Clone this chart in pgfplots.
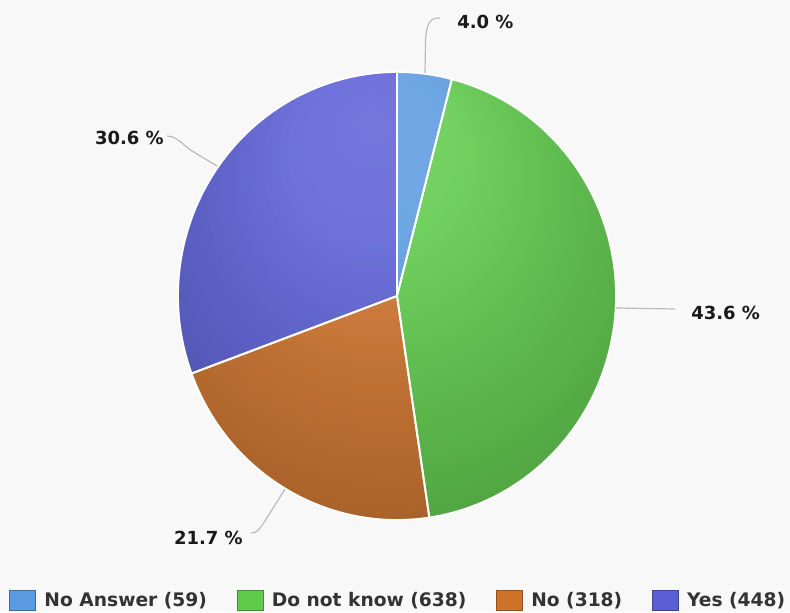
\documentclass[border=0pt]{standalone}
\usepackage{fontspec}
\setmainfont{DejaVu Sans}
\usepackage{pgfplots}
\pgfplotsset{compat=1.18}
\usetikzlibrary{fadings}

\definecolor{bg}{HTML}{F8F8F8}
\definecolor{cBlue}{HTML}{5A9AE0}
\definecolor{cGreen}{HTML}{5ECB4A}
\definecolor{cOrange}{HTML}{D0732A}
\definecolor{cPurple}{HTML}{5A5FD6}
\definecolor{labc}{HTML}{1A1A1A}
\definecolor{legc}{HTML}{333333}
\definecolor{linec}{HTML}{BBBBBB}

\pgfdeclareradialshading{glowshading}{\pgfpoint{-3bp}{20bp}}{color(0bp)=(pgftransparent!84); color(20bp)=(pgftransparent!92); color(50bp)=(pgftransparent!100)}
\pgfdeclarefading{glowfade}{\pgfuseshading{glowshading}}
\pgfdeclareradialshading{rimshading}{\pgfpoint{-3bp}{20bp}}{color(0bp)=(pgftransparent!100); color(10bp)=(pgftransparent!100); color(50bp)=(pgftransparent!66)}
\pgfdeclarefading{rimfade}{\pgfuseshading{rimshading}}

\newcommand\labfont{\fontsize{13.5}{16}\selectfont\bfseries}
\newcommand\legfont{\fontsize{14}{16}\selectfont\bfseries}

% counts
\def\nA{59}   % No Answer
\def\nB{638}  % Do not know
\def\nC{318}  % No
\def\nD{448}  % Yes
\pgfmathsetmacro\tot{\nA+\nB+\nC+\nD}
\pgfmathsetmacro\aA{90}
\pgfmathsetmacro\aB{\aA-360*(\nA/\tot)}
\pgfmathsetmacro\aC{\aB-360*(\nB/\tot)}
\pgfmathsetmacro\aD{\aC-360*(\nC/\tot)}
\pgfmathsetmacro\aE{\aD-360*(\nD/\tot)}
\def\rx{164.25pt}
\def\ry{168pt}

\begin{document}
\begin{tikzpicture}
\begin{axis}[
  width=592.5pt, height=459pt, scale only axis,
  xmin=0, xmax=790, ymin=0, ymax=612,
  hide axis, clip=false,
  legend columns=4,
  legend style={at={(axis cs:9,12)}, anchor=west, draw=none, fill=none,
    inner sep=0pt, font=\legfont, text=legc, nodes={inner sep=1.5pt},
    /tikz/every even column/.append style={column sep=20.75pt},
    /tikz/every odd column/.append style={column sep=5pt}},
  legend image code/.code={\draw[#1] (0pt,-7.5pt) rectangle (19.5pt,7.5pt);},
]
\fill[bg] (axis cs:0,0) rectangle (axis cs:790,612);

\addplot[fill=cBlue, draw=none, legend image post style={draw=cBlue!70!black}] coordinates {(397,316)}
  -- ++(\aA:\rx\space and \ry) arc[start angle=\aA, end angle=\aB, x radius=\rx, y radius=\ry] -- cycle;
\addlegendentry{No Answer (59)}
\addplot[fill=cGreen, draw=none, legend image post style={draw=cGreen!70!black}] coordinates {(397,316)}
  -- ++(\aB:\rx\space and \ry) arc[start angle=\aB, end angle=\aC, x radius=\rx, y radius=\ry] -- cycle;
\addlegendentry{Do not know (638)}
\addplot[fill=cOrange, draw=none, legend image post style={draw=cOrange!70!black}] coordinates {(397,316)}
  -- ++(\aC:\rx\space and \ry) arc[start angle=\aC, end angle=\aD, x radius=\rx, y radius=\ry] -- cycle;
\addlegendentry{No (318)}
\addplot[fill=cPurple, draw=none, legend image post style={draw=cPurple!70!black}] coordinates {(397,316)}
  -- ++(\aD:\rx\space and \ry) arc[start angle=\aD, end angle=\aE, x radius=\rx, y radius=\ry] -- cycle;
\addlegendentry{Yes (448)}

% shading overlays
\addplot[forget plot, fill=white, draw=none, path fading=glowfade] coordinates {(397,316)}
  circle[x radius=\rx, y radius=\ry];
\addplot[forget plot, fill=black, draw=none, path fading=rimfade] coordinates {(397,316)}
  circle[x radius=\rx, y radius=\ry];

% white borders
\addplot[forget plot, draw=white, line width=1.4pt, line join=round] coordinates {(397,316)}
  -- ++(\aA:\rx\space and \ry) arc[start angle=\aA, end angle=\aB, x radius=\rx, y radius=\ry] -- cycle;
\addplot[forget plot, draw=white, line width=1.4pt, line join=round] coordinates {(397,316)}
  -- ++(\aB:\rx\space and \ry) arc[start angle=\aB, end angle=\aC, x radius=\rx, y radius=\ry] -- cycle;
\addplot[forget plot, draw=white, line width=1.4pt, line join=round] coordinates {(397,316)}
  -- ++(\aC:\rx\space and \ry) arc[start angle=\aC, end angle=\aD, x radius=\rx, y radius=\ry] -- cycle;
\addplot[forget plot, draw=white, line width=1.4pt, line join=round] coordinates {(397,316)}
  -- ++(\aD:\rx\space and \ry) arc[start angle=\aD, end angle=\aE, x radius=\rx, y radius=\ry] -- cycle;

% connectors
\draw[linec, line width=0.9pt] (axis cs:425,539) -- (axis cs:425.5,569) .. controls (axis cs:426,592) and (axis cs:432,594) .. (axis cs:440,594);
\draw[linec, line width=0.9pt] (axis cs:616,304) -- (axis cs:675,303);
\draw[linec, line width=0.9pt] (axis cs:217,446) -- (axis cs:192,461) .. controls (axis cs:184,466) and (axis cs:177,476) .. (axis cs:167,476);
\draw[linec, line width=0.9pt] (axis cs:285,123) -- (axis cs:265,91) .. controls (axis cs:259,82) and (axis cs:257,79) .. (axis cs:251,79);

% labels
\node[anchor=west, font=\labfont, text=labc, inner sep=0pt] at (axis cs:457,590) {4.0 \%};
\node[anchor=west, font=\labfont, text=labc, inner sep=0pt] at (axis cs:691,299) {43.6 \%};
\node[anchor=east, font=\labfont, text=labc, inner sep=0pt] at (axis cs:164,474.5) {30.6 \%};
\node[anchor=east, font=\labfont, text=labc, inner sep=0pt] at (axis cs:243,74.5) {21.7 \%};
\end{axis}
\end{tikzpicture}
\end{document}
